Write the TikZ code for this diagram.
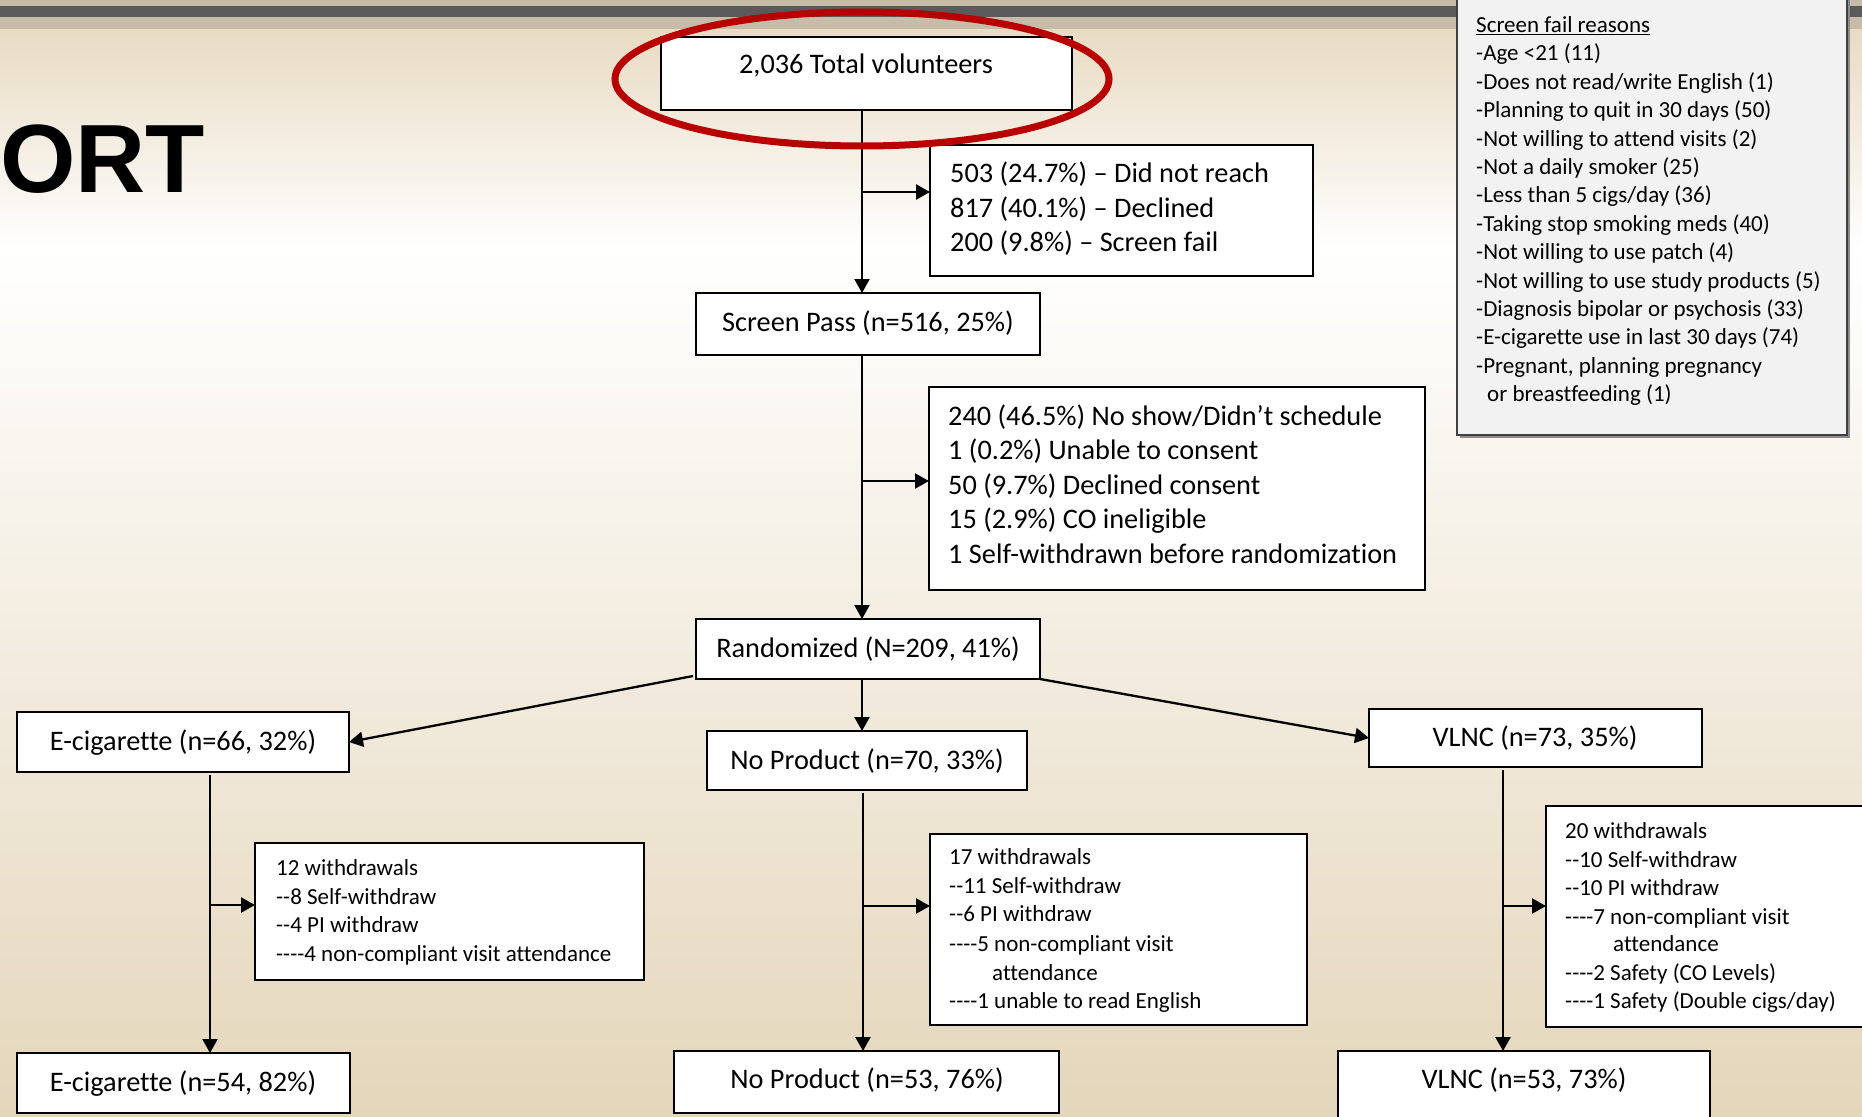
\documentclass[tikz,border=0pt]{standalone}
\usepackage{fontspec}
\setmainfont{Carlito}[Ligatures=NoCommon]
\newfontfamily\ortfont{Liberation Sans}
\usetikzlibrary{arrows.meta,calc}
\definecolor{bgtop}{HTML}{E8DBC3}
\definecolor{bgbot}{HTML}{E4D6BB}
\definecolor{barlight}{HTML}{C7BBA9}
\definecolor{bardark}{HTML}{5A5A5A}
\definecolor{ovalred}{HTML}{B80000}
\definecolor{sfbg}{HTML}{F2F2F2}
\newcommand\hy{\mbox{-}}
\begin{document}
\begin{tikzpicture}[x=1pt,y=-1pt,
  box/.style={draw=black, line width=2pt, fill=white, inner sep=0pt, outer sep=0pt},
  txt/.style={anchor=base west, inner sep=0pt, font=\fontsize{28.3}{34}\selectfont},
  ctxt/.style={anchor=base, inner sep=0pt, font=\fontsize{28.3}{34}\selectfont},
  stxt/.style={anchor=base west, inner sep=0pt, font=\fontsize{23}{28}\selectfont},
  arr/.style={line width=2.3pt, -{Triangle[length=14pt,width=15pt]}}]
\useasboundingbox (0,0) rectangle (1862,1116);
% background
\shade[top color=bgtop, bottom color=white] (0,29) rectangle (1862,250);
\shade[top color=white, bottom color=bgbot] (0,250) rectangle (1862,1116);
\fill[barlight] (0,0) rectangle (1862,29);
\fill[bardark] (0,6) rectangle (1862,17);
% title fragment
\node[anchor=base west, inner sep=0pt, font=\ortfont\bfseries\fontsize{97}{97}\selectfont] (ort) at (0,192) {ORT};
% screen fail reasons box
\fill[black!45] (1460,-2) rectangle (1850,438);
\node[draw=black!75, line width=1.5pt, fill=sfbg, inner sep=0pt, minimum width=390pt, minimum height=440pt] (sf) at (1652,215) {};
\node[stxt] (sf0) at (1476,32.5) {\underline{Screen fail reasons}};
\node[stxt] (sf1) at (1476,60.9) {-Age <21 (11)};
\node[stxt] (sf2) at (1476,89.3) {-Does not read/write English (1)};
\node[stxt] (sf3) at (1476,117.7) {-Planning to quit in 30 days (50)};
\node[stxt] (sf4) at (1476,146.1) {-Not willing to attend visits (2)};
\node[stxt] (sf5) at (1476,174.5) {-Not a daily smoker (25)};
\node[stxt] (sf6) at (1476,202.9) {-Less than 5 cigs/day (36)};
\node[stxt] (sf7) at (1476,231.3) {-Taking stop smoking meds (40)};
\node[stxt] (sf8) at (1476,259.7) {-Not willing to use patch (4)};
\node[stxt] (sf9) at (1476,288.1) {-Not willing to use study products (5)};
\node[stxt] (sf10) at (1476,316.5) {-Diagnosis bipolar or psychosis (33)};
\node[stxt] (sf11) at (1476,344.9) {-E-cigarette use in last 30 days (74)};
\node[stxt] (sf12) at (1476,373.3) {-Pregnant, planning pregnancy};
\node[stxt] (sf13) at (1487,401.7) {or breastfeeding (1)};
% boxes
\node[box, minimum width=411pt, minimum height=73pt] (tot) at (866.5,73.5) {};
\node[ctxt] (totl) at (866,74) {2,036 Total volunteers};
\node[box, minimum width=383pt, minimum height=131pt] (b1) at (1121.5,210.5) {};
\node[txt] (b1a) at (950,182) {503 (24.7\%) – Did not reach};
\node[txt] (b1b) at (950,217) {817 (40.1\%) – Declined};
\node[txt] (b1c) at (950,251) {200 (9.8\%) – Screen fail};
\node[box, minimum width=344pt, minimum height=62pt] (sp) at (868,324) {};
\node[ctxt] (spl) at (868,331) {Screen Pass (n=516, 25\%)};
\node[box, minimum width=496pt, minimum height=203pt] (b2) at (1177,488.5) {};
\node[txt] (b2a) at (948,425) {240 (46.5\%) No show/Didn’t schedule};
\node[txt] (b2b) at (948,459.5) {1 (0.2\%) Unable to consent};
\node[txt] (b2c) at (948,494) {50 (9.7\%) Declined consent};
\node[txt] (b2d) at (948,528.5) {15 (2.9\%) CO ineligible};
\node[txt] (b2e) at (948,563) {1 Self-withdrawn before randomization};
\node[box, minimum width=344pt, minimum height=60pt] (rand) at (868,649) {};
\node[ctxt] (randl) at (868,657) {Randomized (N=209, 41\%)};
\node[box, minimum width=332pt, minimum height=60pt] (ec) at (183,742) {};
\node[ctxt] (ecl) at (183,750) {E-cigarette (n=66, 32\%)};
\node[box, minimum width=320pt, minimum height=59pt] (np) at (867,760.5) {};
\node[ctxt] (npl) at (867,769) {No Product (n=70, 33\%)};
\node[box, minimum width=333pt, minimum height=58pt] (vl) at (1535.5,738) {};
\node[ctxt] (vll) at (1535,746) {VLNC (n=73, 35\%)};
% withdrawal boxes
\node[box, minimum width=389pt, minimum height=137pt] (ew) at (449.5,911.5) {};
\node[stxt] (ew1) at (276,875.5) {12 withdrawals};
\node[stxt] (ew2) at (276,904.5) {\hy\hy8 Self-withdraw};
\node[stxt] (ew3) at (276,932.5) {\hy\hy4 PI withdraw};
\node[stxt] (ew4) at (276,961.5) {\hy\hy\hy\hy4 non-compliant visit attendance};
\node[box, minimum width=377pt, minimum height=191pt] (nw) at (1118.5,929.5) {};
\node[stxt] (nw1) at (949,864.5) {17 withdrawals};
\node[stxt] (nw2) at (949,893.5) {\hy\hy11 Self-withdraw};
\node[stxt] (nw3) at (949,921.5) {\hy\hy6 PI withdraw};
\node[stxt] (nw4) at (949,951.5) {\hy\hy\hy\hy5 non-compliant visit};
\node[stxt] (nw5) at (992,980.5) {attendance};
\node[stxt] (nw6) at (949,1008.5) {\hy\hy\hy\hy1 unable to read English};
\node[box, minimum width=329pt, minimum height=221pt] (vw) at (1710.5,916.5) {};
\node[stxt] (vw1) at (1565,838.5) {20 withdrawals};
\node[stxt] (vw2) at (1565,867.5) {\hy\hy10 Self-withdraw};
\node[stxt] (vw3) at (1565,895.5) {\hy\hy10 PI withdraw};
\node[stxt] (vw4) at (1565,924.5) {\hy\hy\hy\hy7 non-compliant visit};
\node[stxt] (vw5) at (1613,951.5) {attendance};
\node[stxt] (vw6) at (1565,980.5) {\hy\hy\hy\hy2 Safety (CO Levels)};
\node[stxt] (vw7) at (1565,1008.5) {\hy\hy\hy\hy1 Safety (Double cigs/day)};
% final boxes
\node[box, minimum width=333pt, minimum height=60pt] (ecf) at (183.5,1083) {};
\node[ctxt] (ecfl) at (183,1091) {E-cigarette (n=54, 82\%)};
\node[box, minimum width=385pt, minimum height=62pt] (npf) at (866.5,1082) {};
\node[ctxt] (npfl) at (867,1088) {No Product (n=53, 76\%)};
\node[box, minimum width=372pt, minimum height=74pt] (vlf) at (1524,1088) {};
\node[ctxt] (vlfl) at (1524,1088) {VLNC (n=53, 73\%)};
% spine coordinates
\coordinate (s1) at (862,0);
\coordinate (s2) at (210,0);
\coordinate (s3) at (863,0);
\coordinate (s4) at (1503,0);
\coordinate (j1) at (862,192);
\coordinate (j2) at (862,481);
\coordinate (j3) at (210,905);
\coordinate (j4) at (863,906);
\coordinate (j5) at (1503,906);
\coordinate (r1) at (693,676);
% connectors
\draw[arr] (tot.south -| s1) -- (sp.north -| s1);
\draw[arr] (j1) -- (j1 -| b1.west);
\draw[arr] ($(sp.south -| s1)+(0,1)$) -- (rand.north -| s1);
\draw[arr] (j2) -- (j2 -| b2.west);
\draw[arr] (r1) -- (ec.east);
\draw[arr] (rand.south east) -- (vl.west);
\draw[arr] (rand.south -| s1) -- (np.north -| s1);
\draw[arr] ($(ec.south -| s2)+(0,3)$) -- (ecf.north -| s2);
\draw[arr] (j3) -- (j3 -| ew.west);
\draw[arr] ($(np.south -| s3)+(0,3)$) -- (npf.north -| s3);
\draw[arr] (j4) -- (j4 -| nw.west);
\draw[arr] ($(vl.south -| s4)+(0,3)$) -- (vlf.north -| s4);
\draw[arr] (j5) -- (j5 -| vw.west);
% highlight oval
\draw[ovalred, line width=7pt] (862,79) ellipse [x radius=247pt, y radius=67pt];
\end{tikzpicture}
\end{document}
